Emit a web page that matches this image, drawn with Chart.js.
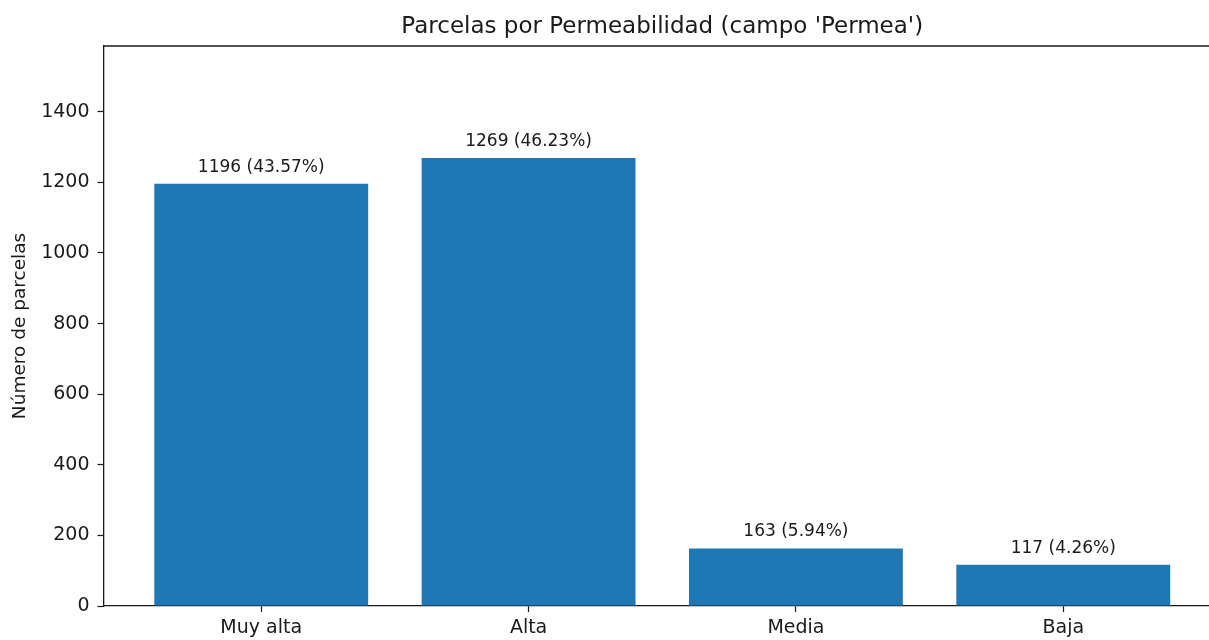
<!DOCTYPE html>
<html>
<head>
<meta charset="utf-8">
<script src="https://cdn.jsdelivr.net/npm/chart.js@4.4.0/dist/chart.umd.min.js"></script>
<style>
  html, body { margin: 0; padding: 0; background: #ffffff; overflow: hidden; }
  #wrap { position: relative; width: 1209px; height: 640px; overflow: hidden; }
  canvas { position: absolute; left: 0; top: 0; }
</style>
</head>
<body>
<div id="wrap"><canvas id="c" width="1240" height="640" style="width:1240px;height:640px"></canvas></div>
<script>
// ---- data ----
const categories = ['Muy alta', 'Alta', 'Media', 'Baja'];
const counts = [1196, 1269, 163, 117];
const yTickValues = [0, 200, 400, 600, 800, 1000, 1200, 1400];
const chartTitle = "Parcelas por Permeabilidad (campo 'Permea')";
const yAxisTitle = 'Número de parcelas';

const total = counts.reduce((a, b) => a + b, 0);
const barLabels = counts.map(v => v + ' (' + (v / total * 100).toFixed(2) + '%)');
const yMax = Math.max(...counts) * 1.25;

const FONT = "'DejaVu Sans', 'Liberation Sans', sans-serif";
const INK = '#1a1a1a';

const barLabelPlugin = {
  id: 'barLabels',
  afterDatasetsDraw(chart) {
    const ctx = chart.ctx;
    const meta = chart.getDatasetMeta(0);
    ctx.save();
    ctx.font = '17px ' + FONT;
    ctx.fillStyle = INK;
    ctx.textAlign = 'center';
    ctx.textBaseline = 'alphabetic';
    meta.data.forEach((bar, i) => {
      ctx.fillText(barLabels[i], bar.x, bar.y - 12);
    });
    ctx.restore();
  }
};

const framePlugin = {
  id: 'frame',
  afterDraw(chart) {
    const a = chart.chartArea;
    const ctx = chart.ctx;
    ctx.save();
    ctx.strokeStyle = INK;
    ctx.lineWidth = 1.3;
    ctx.beginPath();
    ctx.moveTo(a.left, a.top);
    ctx.lineTo(a.right, a.top);
    ctx.lineTo(a.right, a.bottom);
    ctx.stroke();
    ctx.restore();
  }
};

new Chart(document.getElementById('c'), {
  type: 'bar',
  data: {
    datasets: [{
      data: categories.map((c, i) => ({ x: i, y: counts[i] })),
      backgroundColor: '#1f77b4',
      borderWidth: 0,
      barPercentage: 0.8,
      categoryPercentage: 1.0
    }]
  },
  options: {
    responsive: false,
    devicePixelRatio: 1,
    animation: false,
    layout: { padding: { left: 0, right: 19, top: 0, bottom: 0 } },
    plugins: {
      legend: { display: false },
      tooltip: { enabled: false },
      title: {
        display: true,
        text: chartTitle,
        fullSize: false,
        color: INK,
        font: { family: FONT, size: 23, weight: 'normal', lineHeight: 1.2 },
        padding: { top: 13.5, bottom: 4.9 }
      }
    },
    scales: {
      x: {
        type: 'linear',
        min: -0.59,
        max: 3.59,
        offset: false,
        afterBuildTicks(scale) { scale.ticks = categories.map((c, i) => ({ value: i })); },
        afterFit(scale) { scale.height = 34; },
        ticks: {
          autoSkip: false,
          maxRotation: 0,
          padding: 5,
          color: INK,
          font: { family: FONT, size: 19 },
          callback: (v) => categories[v] ?? ''
        },
        grid: { offset: false, drawOnChartArea: false, drawTicks: true, tickLength: 6, color: INK, tickWidth: 1.2 },
        border: { display: true, color: INK, width: 1.3 }
      },
      y: {
        type: 'linear',
        min: 0,
        max: yMax,
        afterBuildTicks(scale) { scale.ticks = yTickValues.map(v => ({ value: v })); },
        afterFit(scale) { scale.width = 103.5; },
        ticks: {
          padding: 8,
          color: INK,
          font: { family: FONT, size: 19 },
          callback: (v) => String(v)
        },
        grid: { offset: false, drawOnChartArea: false, drawTicks: true, tickLength: 6, color: INK, tickWidth: 1.2 },
        border: { display: true, color: INK, width: 1.3 },
        title: {
          display: true,
          text: yAxisTitle,
          color: INK,
          font: { family: FONT, size: 18.5, lineHeight: 1.2 },
          padding: { top: 9, bottom: 0 }
        }
      }
    }
  },
  plugins: [barLabelPlugin, framePlugin]
});
</script>
</body>
</html>
